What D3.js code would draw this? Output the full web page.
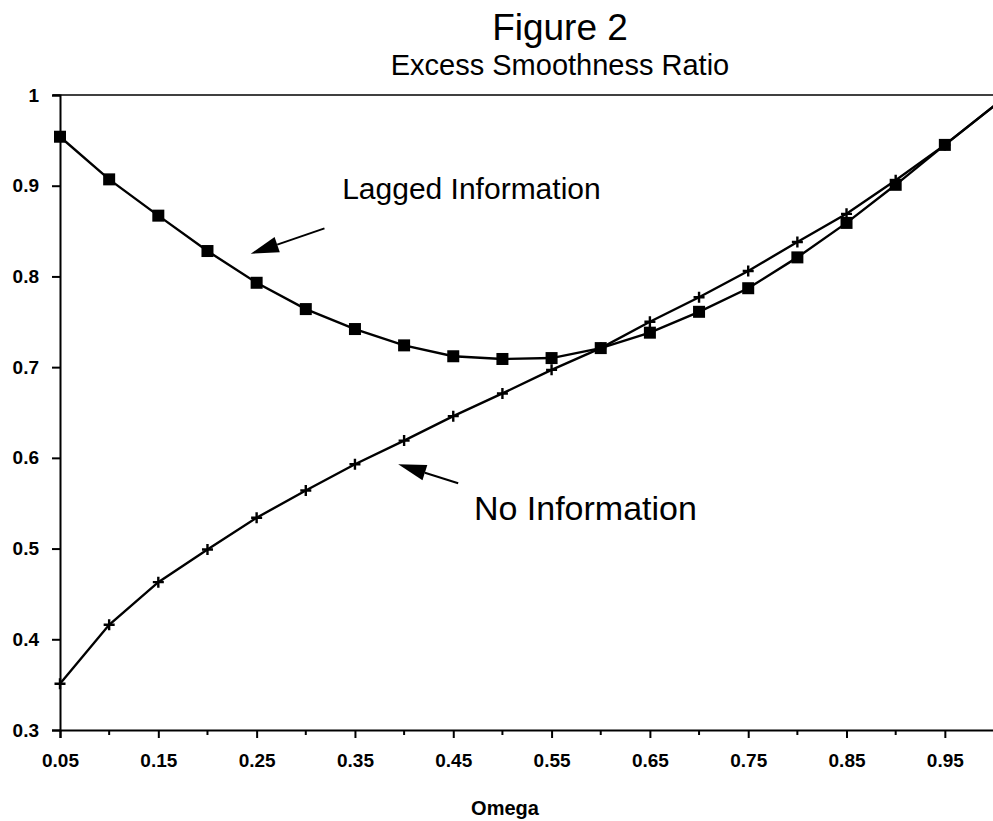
<!DOCTYPE html>
<html>
<head>
<meta charset="utf-8">
<script src="https://cdn.jsdelivr.net/npm/d3@7"></script>
<style>
  body { margin: 0; background: #fff; }
  svg text { font-family: "Liberation Sans", Arial, Helvetica, sans-serif; fill: #000; }
</style>
</head>
<body>
<svg id="chart"></svg>
<script>
// omega values (x) and the two series
const omega = [0.05, 0.10, 0.15, 0.20, 0.25, 0.30, 0.35, 0.40, 0.45, 0.50,
               0.55, 0.60, 0.65, 0.70, 0.75, 0.80, 0.85, 0.90, 0.95, 1.00]
const lagged = [0.954, 0.907, 0.867, 0.828, 0.793, 0.764, 0.742, 0.724, 0.712, 0.709,
                0.710, 0.721, 0.738, 0.761, 0.787, 0.821, 0.859, 0.901, 0.945, 0.988]
const noInfo = [0.351, 0.416, 0.463, 0.499, 0.534, 0.564, 0.593, 0.619, 0.646, 0.671,
                0.697, 0.721, 0.750, 0.777, 0.806, 0.838, 0.869, 0.906, 0.945, 0.988]
// last point (omega = 1) has no marker
const markerCount = 19

const xMajor = [0.05, 0.15, 0.25, 0.35, 0.45, 0.55, 0.65, 0.75, 0.85, 0.95]
const xMinor = [0.10, 0.20, 0.30, 0.40, 0.50, 0.60, 0.70, 0.80, 0.90]
const yTicks = [0.3, 0.4, 0.5, 0.6, 0.7, 0.8, 0.9, 1]

const titleText = "Figure 2"
const subtitleText = "Excess Smoothness Ratio"
const xTitle = "Omega"

// annotation anchors in data units: text start, arrow tail, arrow tip
const notes = [
  { label: "Lagged Information", size: 30, text: [0.337, 0.885], tail: [0.319, 0.853], tip: [0.244, 0.825] },
  { label: "No Information", size: 34, text: [0.471, 0.531], tail: [0.455, 0.572], tip: [0.394, 0.593] }
]

const width = 993, height = 821

const svg = d3.select("#chart").attr("width", width).attr("height", height)

const x = d3.scaleLinear().domain([0.05, 1.0]).range([60, 994])
const y = d3.scaleLinear().domain([0.3, 1.0]).range([730, 95])

// titles
svg.append("text").attr("x", 560).attr("y", 40)
  .attr("text-anchor", "middle").attr("font-size", 37).text(titleText)
svg.append("text").attr("x", 560).attr("y", 75)
  .attr("text-anchor", "middle").attr("font-size", 29).text(subtitleText)

// top frame line
svg.append("line")
  .attr("x1", 53).attr("x2", width).attr("y1", y(1)).attr("y2", y(1))
  .attr("stroke", "#000").attr("stroke-width", 1.6)

const tickFont = (sel) => sel.attr("font-size", 19).attr("font-weight", "bold")
  .attr("font-family", "Liberation Sans, Arial, sans-serif")

// y axis
const yAxis = d3.axisLeft(y).tickValues(yTicks).tickSize(8).tickPadding(13)
  .tickFormat((d) => d === 1 ? "1" : d3.format(".1f")(d))
const gy = svg.append("g").attr("transform", `translate(${x(0.05)},0)`).call(yAxis)
gy.select(".domain").attr("stroke-width", 2)
gy.selectAll(".tick line").attr("stroke-width", 2)
gy.selectAll(".tick text").call(tickFont)

// x axis with minor ticks
const xAxis = d3.axisBottom(x).tickValues(xMajor).tickSize(8).tickPadding(16)
  .tickFormat(d3.format(".2f"))
const gx = svg.append("g").attr("transform", `translate(0,${y(0.3)})`).call(xAxis)
gx.select(".domain").attr("stroke-width", 2)
gx.selectAll(".tick line").attr("stroke-width", 2)
gx.selectAll(".tick text").call(tickFont)
gx.selectAll(".minor").data(xMinor).enter().append("line")
  .attr("class", "minor")
  .attr("x1", (d) => x(d)).attr("x2", (d) => x(d))
  .attr("y1", 0).attr("y2", 5)
  .attr("stroke", "#000").attr("stroke-width", 2)

svg.append("text").attr("x", 505).attr("y", 815)
  .attr("text-anchor", "middle").attr("font-size", 20).attr("font-weight", "bold")
  .text(xTitle)

// series lines
const line = d3.line().x((d) => x(d[0])).y((d) => y(d[1]))
const lagPts = omega.map((o, i) => [o, lagged[i]])
const noPts = omega.map((o, i) => [o, noInfo[i]])

svg.append("path").datum(noPts).attr("d", line)
  .attr("fill", "none").attr("stroke", "#000").attr("stroke-width", 2.4)
svg.append("path").datum(lagPts).attr("d", line)
  .attr("fill", "none").attr("stroke", "#000").attr("stroke-width", 2.4)

// plus markers for No Information
svg.append("g").selectAll("path").data(noPts.slice(0, markerCount)).enter().append("path")
  .attr("d", (d) => {
    const cx = x(d[0]), cy = y(d[1]), r = 5.5
    return `M${cx - r},${cy}H${cx + r}M${cx},${cy - r}V${cy + r}`
  })
  .attr("stroke", "#000").attr("stroke-width", 2.4)

// square markers for Lagged Information
const sq = 12
svg.append("g").selectAll("rect").data(lagPts.slice(0, markerCount)).enter().append("rect")
  .attr("x", (d) => x(d[0]) - sq / 2).attr("y", (d) => y(d[1]) - sq / 2)
  .attr("width", sq).attr("height", sq).attr("fill", "#000")

// annotations with arrows
notes.forEach((n) => {
  svg.append("text").attr("x", x(n.text[0])).attr("y", y(n.text[1]))
    .attr("font-size", n.size).text(n.label)

  const tx = x(n.tail[0]), ty = y(n.tail[1])
  const px = x(n.tip[0]), py = y(n.tip[1])
  const ang = Math.atan2(py - ty, px - tx)
  const headLen = 28, headW = 8
  const bx = px - headLen * Math.cos(ang), by = py - headLen * Math.sin(ang)
  svg.append("line").attr("x1", tx).attr("y1", ty).attr("x2", bx).attr("y2", by)
    .attr("stroke", "#000").attr("stroke-width", 2)
  const nx = -Math.sin(ang) * headW, ny = Math.cos(ang) * headW
  svg.append("path")
    .attr("d", `M${px},${py}L${bx + nx},${by + ny}L${bx - nx},${by - ny}Z`)
    .attr("fill", "#000")
})
</script>
</body>
</html>
